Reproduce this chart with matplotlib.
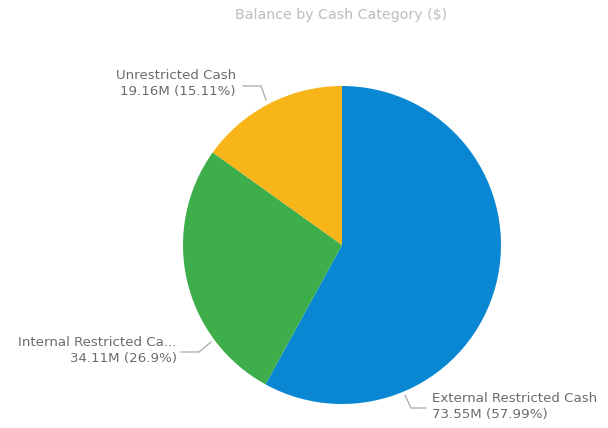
import matplotlib.pyplot as plt

W, H = 608, 428
TITLE = "Balance by Cash Category ($)"
short_names = ["External Restricted Cash", "Internal Restricted Ca...", "Unrestricted Cash"]
values_m = [73.55, 34.11, 19.16]
pct_text = ["57.99%", "26.9%", "15.11%"]
colors = ["#0A87D2", "#3DAE4A", "#F8B519"]
LABEL = "#6B6B6B"
LINE = "#A8A8A8"

plt.rcParams["font.family"] = ["DejaVu Sans"]

fig = plt.figure(figsize=(W / 100, H / 100), dpi=100)
ax = fig.add_axes([0, 0, 1, 1])

cx, cy, r = 342, H - 245, 159
ax.pie(values_m, colors=colors, startangle=90, counterclock=False,
       center=(cx, cy), radius=r, wedgeprops={"linewidth": 0}, frame=True)
ax.set_xlim(0, W)
ax.set_ylim(0, H)
ax.set_aspect("equal")
ax.axis("off")

# label placement in pixel coords (x, y from top), alignment, leader line points
places = [
    (432, 398, "left", [(405, 395), (411, 408), (426, 408)]),
    (177, 342, "right", [(211, 342), (199, 352), (181, 352)]),
    (236, 75, "right", [(266, 100), (261, 86), (243, 86)]),
]
for i, (x, y, ha, pts) in enumerate(places):
    ax.text(x, H - y, short_names[i], ha=ha, va="center", fontsize=9.6, color=LABEL)
    ax.text(x, H - y - 16.5, f"{values_m[i]:.2f}M ({pct_text[i]})", ha=ha, va="center",
            fontsize=9.6, color=LABEL)
    ax.plot([p[0] for p in pts], [H - p[1] for p in pts], color=LINE, linewidth=0.9)

fig.text(341 / W, 1 - 15 / H, TITLE, ha="center", va="center", fontsize=10.2, color="#BDBDBD")

fig.savefig("out.png", dpi=100, facecolor="white")
